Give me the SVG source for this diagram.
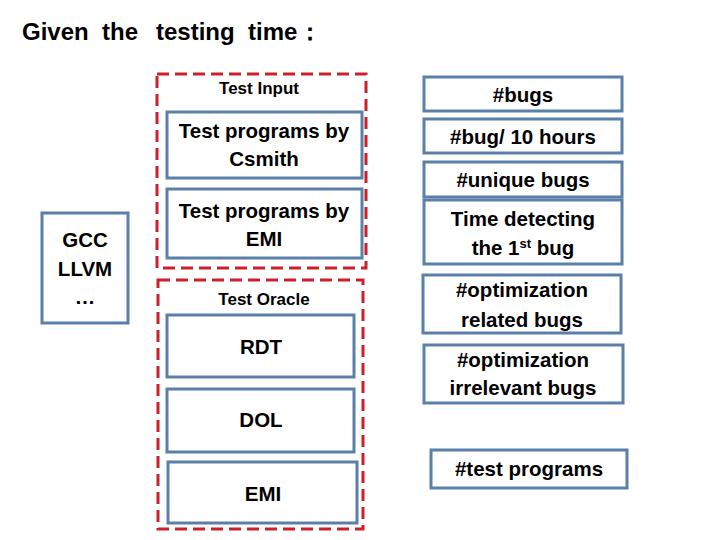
<svg xmlns="http://www.w3.org/2000/svg" width="720" height="540" viewBox="0 0 720 540">
<style>
.b{fill:#fff;stroke:#5a7fa8;stroke-width:3}
.d{fill:none;stroke:#cc1f2a;stroke-width:3;stroke-dasharray:12 6}
text{font-family:"Liberation Sans",Arial,sans-serif;font-weight:bold;fill:#000;text-anchor:middle}
.t{font-size:20.5px}
.s{font-size:17px}
.h{font-size:24px;text-anchor:start}
</style>
<rect width="720" height="540" fill="#fff"/>
<g id="title"><text class="h" y="40"><tspan x="22">Given</tspan><tspan x="102">the</tspan><tspan x="156">testing</tspan><tspan x="248">time</tspan><tspan x="298">：</tspan></text></g>
<g id="test-input"><rect class="d" x="157" y="74" width="209" height="194"/><text class="s" x="259" y="94">Test  Input</text></g>
<g id="test-oracle"><rect class="d" x="158" y="280" width="205" height="249"/><text class="s" x="264" y="305">Test  Oracle</text></g>
<g id="csmith"><rect class="b" x="167" y="112" width="195" height="66"/><text class="t" x="264" y="138">Test programs by</text><text class="t" x="264" y="166">Csmith</text></g>
<g id="emi-input"><rect class="b" x="167" y="189" width="195" height="69"/><text class="t" x="264" y="218">Test programs by</text><text class="t" x="264" y="246">EMI</text></g>
<g id="rdt"><rect class="b" x="167" y="315" width="187" height="62"/><text class="t" x="261" y="354">RDT</text></g>
<g id="dol"><rect class="b" x="167" y="389" width="187" height="63"/><text class="t" x="261" y="427">DOL</text></g>
<g id="emi"><rect class="b" x="168" y="462" width="189" height="61"/><text class="t" x="263" y="501">EMI</text></g>
<g id="compilers"><rect class="b" x="42" y="213" width="86" height="110"/><text class="t" x="85" y="247">GCC</text><text class="t" x="85" y="276">LLVM</text><text class="t" x="85" y="304">…</text></g>
<g id="bugs"><rect class="b" x="424" y="77" width="198" height="34"/><text class="t" x="523" y="102">#bugs</text></g>
<g id="bug-10h"><rect class="b" x="424" y="119" width="198" height="34"/><text class="t" x="523" y="144">#bug/ 10 hours</text></g>
<g id="unique"><rect class="b" x="424" y="162" width="198" height="35"/><text class="t" x="523" y="187">#unique bugs</text></g>
<g id="time-first"><rect class="b" x="424" y="200" width="198" height="64"/><text class="t" x="523" y="226">Time detecting</text><text class="t" x="523" y="255">the 1<tspan font-size="13" dy="-7">st</tspan><tspan dy="7"> bug</tspan></text></g>
<g id="opt-related"><rect class="b" x="423" y="275" width="198" height="58"/><text class="t" x="522" y="297">#optimization</text><text class="t" x="522" y="327">related bugs</text></g>
<g id="opt-irrelevant"><rect class="b" x="424" y="345" width="199" height="58"/><text class="t" x="523" y="367">#optimization</text><text class="t" x="523" y="395">irrelevant bugs</text></g>
<g id="test-programs"><rect class="b" x="431" y="450" width="196" height="38"/><text class="t" x="529" y="476">#test programs</text></g>
<g id="connectors"/>
</svg>
